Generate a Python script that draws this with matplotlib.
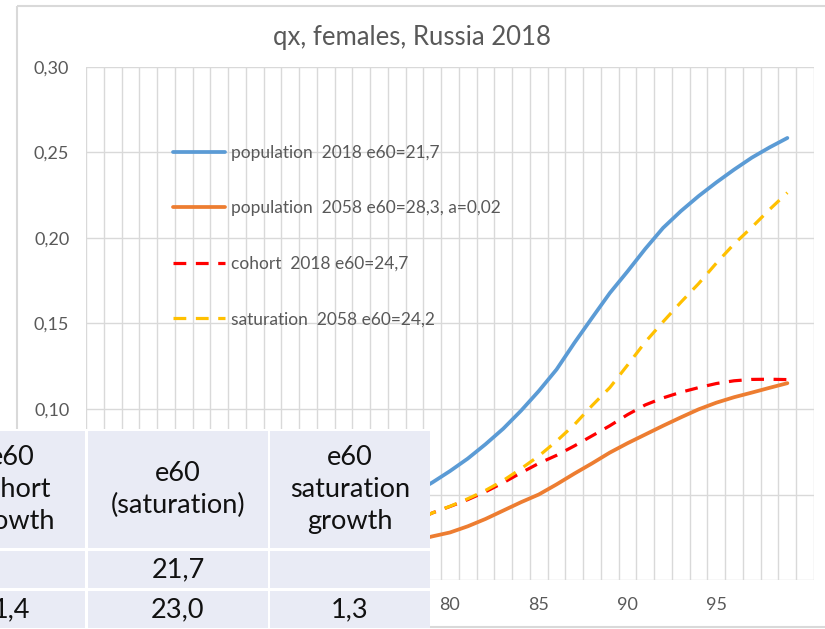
import numpy as np
import matplotlib
matplotlib.use('Agg')
import matplotlib.pyplot as plt
from matplotlib.patches import Rectangle
from matplotlib.ticker import FuncFormatter

plt.rcParams['font.family'] = ['Lato', 'DejaVu Sans']

# Ages 60..99, probability of dying qx
ages = list(range(60, 100))

pop_2018 = [0.0077, 0.0084, 0.0092, 0.0101, 0.0112, 0.0124, 0.0138, 0.0153, 0.0170, 0.0190,
            0.0215, 0.0240, 0.0265, 0.0295, 0.0330, 0.0370, 0.0415, 0.0460, 0.0510, 0.0570,
            0.0637, 0.0710, 0.0794, 0.0885, 0.0990, 0.1105, 0.1231, 0.1386, 0.1533, 0.1678,
            0.1805, 0.1937, 0.2059, 0.2157, 0.2245, 0.2325, 0.2400, 0.2470, 0.2530, 0.2585]

pop_2058 = [0.0034, 0.0037, 0.0041, 0.0045, 0.0050, 0.0055, 0.0061, 0.0068, 0.0076, 0.0085,
            0.0095, 0.0106, 0.0119, 0.0133, 0.0149, 0.0166, 0.0185, 0.0206, 0.0230, 0.0255,
            0.0278, 0.0314, 0.0357, 0.0406, 0.0455, 0.0500, 0.0559, 0.0622, 0.0682, 0.0745,
            0.0800, 0.0851, 0.0902, 0.0951, 0.0998, 0.1037, 0.1069, 0.1096, 0.1124, 0.1151]

cohort_2018 = [0.0052, 0.0057, 0.0063, 0.0069, 0.0076, 0.0084, 0.0093, 0.0103, 0.0114, 0.0127,
               0.0141, 0.0157, 0.0175, 0.0195, 0.0218, 0.0243, 0.0271, 0.0303, 0.0345, 0.0392,
               0.0430, 0.0470, 0.0516, 0.0569, 0.0627, 0.0682, 0.0729, 0.0784, 0.0843, 0.0902,
               0.0967, 0.1024, 0.1065, 0.1098, 0.1125, 0.1149, 0.1165, 0.1173, 0.1174, 0.1172]

saturation_2058 = [0.0050, 0.0055, 0.0061, 0.0067, 0.0074, 0.0082, 0.0091, 0.0101, 0.0112, 0.0125,
                   0.0139, 0.0155, 0.0173, 0.0193, 0.0216, 0.0241, 0.0269, 0.0301, 0.0343, 0.0392,
                   0.0431, 0.0475, 0.0524, 0.0582, 0.0651, 0.0725, 0.0812, 0.0908, 0.1020, 0.1125,
                   0.1257, 0.1392, 0.1510, 0.1624, 0.1733, 0.1853, 0.1965, 0.2063, 0.2167, 0.2265]

labels = ['population  2018 e60=21,7',
          'population  2058 e60=28,3, a=0,02',
          'cohort  2018 e60=24,7',
          'saturation  2058 e60=24,2']

# age labels left uncovered by the table
age_ticks = [80, 85, 90, 95]

# Summary table pasted over the lower-left corner
table_header = ['e60\ncohort\ngrowth', 'e60\n(saturation)', 'e60\nsaturation\ngrowth']
table_rows = [['', '21,7', ''],
              ['1,4', '23,0', '1,3']]

W, H = 825, 629
fig = plt.figure(figsize=(W / 100, H / 100), dpi=100)
ax = fig.add_axes([86 / W, 1 - 580 / H, (814 - 86) / W, (580 - 67) / H])

txt = '#595959'
grid = '#D9D9D9'

ax.plot(ages, pop_2018, color='#5B9BD5', lw=2.7, label=labels[0], solid_capstyle='round')
ax.plot(ages, pop_2058, color='#ED7D31', lw=2.7, label=labels[1], solid_capstyle='round')
ax.plot(ages, cohort_2018, color='#FF0000', lw=2.3, dashes=(4, 3), label=labels[2])
ax.plot(ages, saturation_2058, color='#FFC000', lw=2.3, dashes=(4, 3), label=labels[3])

ax.set_xlim(59.5, 100.5)
ax.set_ylim(0, 0.30)
ax.set_yticks(np.arange(0, 0.301, 0.05))
ax.yaxis.set_major_formatter(FuncFormatter(lambda v, p: f'{v:.2f}'.replace('.', ',')))
ax.set_xticks(age_ticks)
ax.set_xticks(np.arange(59.5, 101, 1), minor=True)
ax.tick_params(axis='both', which='both', length=0, colors=txt, labelsize=13)
ax.tick_params(axis='y', pad=12)
ax.tick_params(axis='x', pad=12)
ax.grid(False)
ax.grid(True, which='minor', axis='x', color=grid, lw=1)
ax.grid(True, which='major', axis='y', color=grid, lw=1)
ax.set_axisbelow(True)
for s in ax.spines.values():
    s.set_visible(False)

fig.text(412 / W, 1 - 37 / H, 'qx, females, Russia 2018', fontsize=18.5, color=txt,
         ha='center', va='center')

leg = ax.legend(loc='upper left', bbox_to_anchor=(173 / W, 1 - 145 / H),
                bbox_transform=fig.transFigure, frameon=False, fontsize=12.5,
                labelspacing=2.27, handlelength=3.0, handletextpad=0.35,
                borderpad=0, borderaxespad=0)
for t in leg.get_texts():
    t.set_color(txt)

# overlay in pixel coordinates: chart frame and the table
ov = fig.add_axes([0, 0, 1, 1], zorder=5)
ov.set_xlim(0, W)
ov.set_ylim(H, 0)
ov.axis('off')
ov.add_patch(Rectangle((17, 6), 830, 621, fill=False, ec=grid, lw=1.5))

col_x = [(-90, 85), (88, 268), (270, 430)]
row_y = [(431, 548), (551, 588), (591, 628)]
cell = '#E9EBF5'
ov.add_patch(Rectangle((-5, 429), 435, 205, fc='white', ec='none'))
for r, (y0, y1) in enumerate(row_y):
    for c, (x0, x1) in enumerate(col_x):
        ov.add_patch(Rectangle((x0, y0), x1 - x0, y1 - y0, fc=cell, ec='none'))
        s = table_header[c] if r == 0 else table_rows[r - 1][c]
        cx = (x0 + x1) / 2 if c else 12
        ov.text(cx, (y0 + y1) / 2, s, ha='center', va='center', fontsize=19.5,
                color='#111111', linespacing=1.33)

fig.savefig('out.png', dpi=100)
